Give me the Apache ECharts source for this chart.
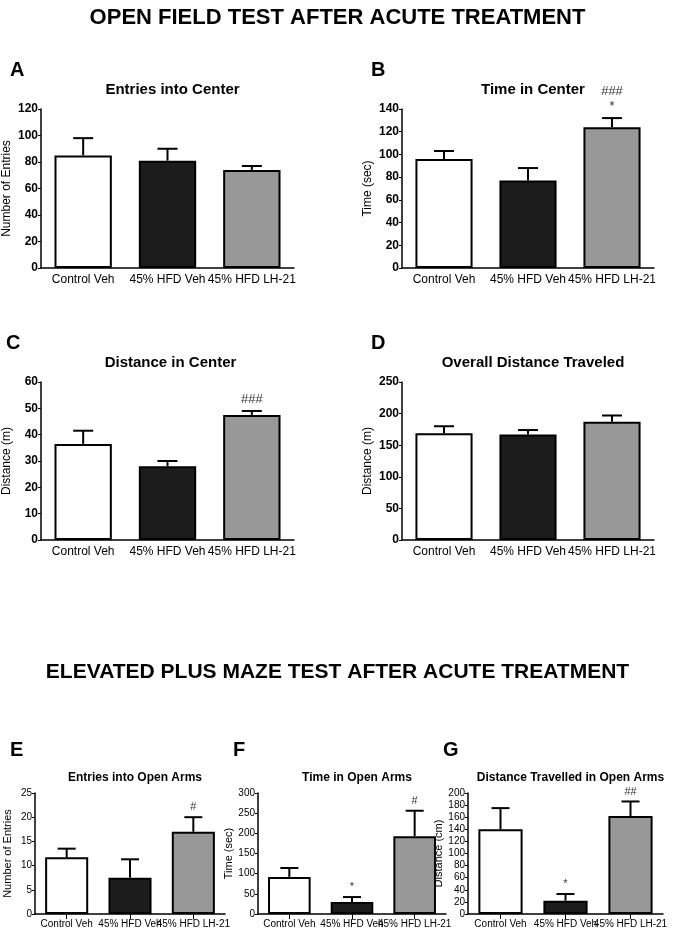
<!DOCTYPE html>
<html>
<head>
<meta charset="utf-8">
<script src="https://cdn.jsdelivr.net/npm/echarts@6/dist/echarts.min.js"></script>
<style>html,body{margin:0;padding:0;background:#fff}#main{width:675px;height:929px}</style>
</head>
<body>
<div id="main"></div>
<script>
var groups = ['Control Veh', '45% HFD Veh', '45% HFD LH-21'];

var entriesCenter = [85, 81, 74];
var entriesCenterErr = [13, 9, 3];
var timeCenter = [96, 77, 124];
var timeCenterErr = [7, 11, 8];
var distCenter = [36.5, 28, 47.5];
var distCenterErr = [5, 2, 1.5];
var distOverall = [169, 167, 187];
var distOverallErr = [11, 7, 10];
var entriesArms = [11.7, 7.5, 17];
var entriesArmsErr = [1.8, 3.8, 3];
var timeArms = [92, 30, 193];
var timeArmsErr = [22, 12, 63];
var distArms = [140, 22, 162];
var distArmsErr = [35, 11, 24];

var marksB = ['', '', '###\n*'];
var marksC = ['', '', '###'];
var marksE = ['', '', '#'];
var marksF = ['', '*', '#'];
var marksG = ['', '*', '##'];
var none = ['', '', ''];

var barColors = ['#ffffff', '#1c1c1c', '#989898'];
var font = "'Liberation Sans Narrow', 'Liberation Sans', Arial, sans-serif";

var panels = [
  {letter: 'A', title: 'Entries into Center', yName: 'Number of Entries', max: 120, step: 20, vals: entriesCenter, err: entriesCenterErr, marks: none,
   left: 41, top: 109, width: 253, height: 159, big: true},
  {letter: 'B', title: 'Time in Center', yName: 'Time (sec)', max: 140, step: 20, vals: timeCenter, err: timeCenterErr, marks: marksB,
   left: 402, top: 109, width: 252, height: 159, big: true},
  {letter: 'C', title: 'Distance in Center', yName: 'Distance (m)', max: 60, step: 10, vals: distCenter, err: distCenterErr, marks: marksC,
   left: 37, top: 382, width: 257, height: 158, big: true},
  {letter: 'D', title: 'Overall Distance Traveled', yName: 'Distance (m)', max: 250, step: 50, vals: distOverall, err: distOverallErr, marks: none,
   left: 402, top: 382, width: 252, height: 158, big: true},
  {letter: 'E', title: 'Entries into Open Arms', yName: 'Number of Entries', max: 25, step: 5, vals: entriesArms, err: entriesArmsErr, marks: marksE,
   left: 35, top: 793, width: 190, height: 122, big: false},
  {letter: 'F', title: 'Time in Open Arms', yName: 'Time (sec)', max: 300, step: 50, vals: timeArms, err: timeArmsErr, marks: marksF,
   left: 258, top: 793, width: 188, height: 122, big: false},
  {letter: 'G', title: 'Distance Travelled in Open Arms', yName: 'Distance (cm)', max: 200, step: 20, vals: distArms, err: distArmsErr, marks: marksG,
   left: 468, top: 793, width: 195, height: 122, big: false}
];

var grid = [], xAxis = [], yAxis = [], series = [], titles = [];

titles.push({text: 'OPEN FIELD TEST AFTER ACUTE TREATMENT', left: 'center', top: 2,
  textStyle: {fontFamily: 'Liberation Sans, Arial', fontSize: 22, fontWeight: 'bold', color: '#000'}});
titles.push({text: 'ELEVATED PLUS MAZE TEST AFTER ACUTE TREATMENT', left: 'center', top: 657,
  textStyle: {fontFamily: 'Liberation Sans, Arial', fontSize: 21, fontWeight: 'bold', color: '#000'}});

panels.forEach(function (p, i) {
  var fs = p.big ? 12 : 10;
  titles.push({text: p.letter, left: p.left - (p.big ? 36 : 30), top: p.top - (p.big ? 54 : 58),
    textStyle: {fontFamily: 'Liberation Sans, Arial', fontSize: 20, fontWeight: 'bold', color: '#000'}});
  titles.push({text: p.title, left: p.left + p.width / 2, textAlign: 'center', top: p.top - (p.big ? 32 : 26),
    textStyle: {fontFamily: font, fontSize: p.big ? 15 : 12, fontWeight: 'bold', color: '#000'}});
  grid.push({left: p.left, top: p.top, width: p.width, height: p.height, containLabel: false});
  xAxis.push({type: 'category', gridIndex: i, data: groups,
    axisLine: {lineStyle: {color: '#000', width: 1.5}},
    axisTick: {show: !p.big, alignWithLabel: true, lineStyle: {color: '#000'}},
    axisLabel: {color: '#000', fontFamily: font, fontSize: p.big ? 12 : 10, margin: p.big ? 6 : 5, interval: 0}});
  yAxis.push({type: 'value', gridIndex: i, min: 0, max: p.max, interval: p.step,
    name: p.yName, nameLocation: 'middle', nameGap: p.big ? 28 : 22,
    nameTextStyle: {color: '#000', fontFamily: 'Liberation Sans, Arial', fontSize: p.big ? 12 : 11},
    axisLine: {show: true, lineStyle: {color: '#000', width: 1.5}},
    axisTick: {show: true, length: 3, lineStyle: {color: '#000'}},
    splitLine: {show: false},
    axisLabel: {color: '#000', fontFamily: font, fontSize: fs, fontWeight: p.big ? 'bold' : 'normal', margin: 3}});
  series.push({type: 'bar', xAxisIndex: i, yAxisIndex: i, barWidth: '68%', z: 2,
    data: p.vals.map(function (v, k) {
      return {value: v, itemStyle: {color: barColors[k], borderColor: '#000', borderWidth: 2}};
    })});
  series.push({type: 'custom', xAxisIndex: i, yAxisIndex: i, z: 3,
    data: p.vals.map(function (v, k) { return [k, v, v + p.err[k], p.marks[k]]; }),
    renderItem: function (params, api) {
      var base = api.coord([api.value(0), api.value(1)]);
      var top = api.coord([api.value(0), api.value(2)]);
      var half = p.big ? 10 : 9;
      var mark = p.marks[params.dataIndex];
      var children = [
        {type: 'line', shape: {x1: base[0], y1: base[1], x2: top[0], y2: top[1]}, style: {stroke: '#000', lineWidth: 2}},
        {type: 'line', shape: {x1: top[0] - half, y1: top[1], x2: top[0] + half, y2: top[1]}, style: {stroke: '#000', lineWidth: 2}}
      ];
      if (mark) {
        children.push({type: 'text', x: top[0], y: top[1] - 4,
          style: {text: mark, align: 'center', verticalAlign: 'bottom', fill: '#333',
            font: (p.big ? '13px ' : '11px ') + font, lineHeight: p.big ? 15 : 12}});
      }
      return {type: 'group', children: children};
    }});
});

var chart = echarts.init(document.getElementById('main'));
chart.setOption({
  animation: false,
  backgroundColor: '#fff',
  title: titles,
  grid: grid,
  xAxis: xAxis,
  yAxis: yAxis,
  series: series
});
</script>
</body>
</html>
